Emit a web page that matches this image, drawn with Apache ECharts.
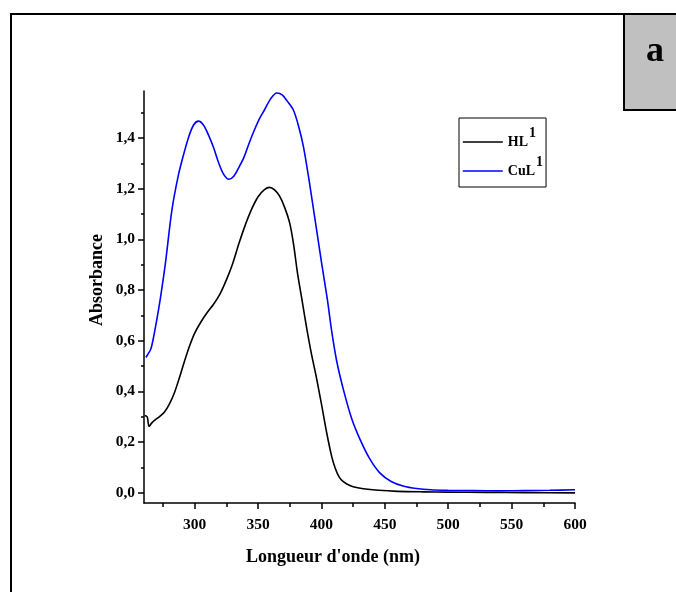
<!DOCTYPE html>
<html>
<head>
<meta charset="utf-8">
<script src="https://cdn.jsdelivr.net/npm/echarts@6/dist/echarts.min.js"></script>
<style>
  html, body { margin: 0; padding: 0; background: #fff; }
  #chart { width: 676px; height: 592px; }
</style>
</head>
<body>
<div id="chart"></div>
<script>
// UV-Vis absorption spectra of the ligand HL1 and its copper complex CuL1
const hlWavelength = [260.5, 262.5, 264, 266, 268, 272, 276, 280, 284, 288, 292, 296, 300, 305, 310, 315, 320, 325, 330, 335, 340, 345, 350, 355, 359, 363, 367, 371, 375, 378, 381, 384.5, 388.5, 392, 396, 400, 404, 408, 411, 414, 417, 420, 425, 433, 445, 460, 480, 500, 530, 560, 600];
const hlAbsorbance = [0.305, 0.300, 0.262, 0.275, 0.285, 0.300, 0.318, 0.350, 0.395, 0.455, 0.520, 0.580, 0.630, 0.675, 0.712, 0.745, 0.785, 0.840, 0.905, 0.985, 1.058, 1.120, 1.168, 1.196, 1.205, 1.195, 1.170, 1.125, 1.063, 0.980, 0.870, 0.765, 0.645, 0.550, 0.455, 0.350, 0.240, 0.145, 0.095, 0.062, 0.045, 0.035, 0.024, 0.016, 0.010, 0.006, 0.004, 0.003, 0.002, 0.001, 0.000];

const culWavelength = [261.5, 263.5, 265.3, 267, 270, 273, 277, 282, 287, 291, 295, 299, 303, 307, 311, 315, 319, 323, 327, 331, 335, 339, 343, 347, 351, 355, 360, 364.8, 369, 373, 377.9, 382, 385.8, 390, 395, 400, 404.7, 408, 412, 417.3, 424, 430.5, 438, 446, 455, 465, 475, 486, 500, 520, 540, 560, 580, 600];
const culAbsorbance = [0.534, 0.550, 0.566, 0.600, 0.680, 0.770, 0.910, 1.115, 1.250, 1.330, 1.400, 1.450, 1.466, 1.450, 1.410, 1.360, 1.300, 1.255, 1.237, 1.250, 1.285, 1.325, 1.380, 1.430, 1.475, 1.510, 1.555, 1.577, 1.570, 1.545, 1.509, 1.445, 1.365, 1.240, 1.076, 0.910, 0.761, 0.640, 0.520, 0.407, 0.290, 0.210, 0.135, 0.079, 0.045, 0.026, 0.017, 0.012, 0.010, 0.009, 0.008, 0.009, 0.010, 0.012];

const xMajorTicks = [300, 350, 400, 450, 500, 550, 600];
const xMinorTicks = [275, 325, 375, 425, 475, 525, 575];
const yMajorTicks = [0, 0.2, 0.4, 0.6, 0.8, 1.0, 1.2, 1.4];
const yMinorTicks = [0.1, 0.3, 0.5, 0.7, 0.9, 1.1, 1.3, 1.5];

const seriesNames = ['HL1', 'CuL1'];
const seriesLabels = { 'HL1': 'HL', 'CuL1': 'CuL' };
const seriesColors = ['#000000', '#0000ff'];

const FONT = '"Liberation Serif", "Times New Roman", serif';

const pairs = (xs, ys) => xs.map((x, i) => [x, ys[i]]);

const X_MIN = 260, X_MAX = 600, Y_MIN = -0.04, Y_MAX = 1.585;

const chart = echarts.init(document.getElementById('chart'), null, { renderer: 'canvas' });

const baseX = {
  type: 'value', min: X_MIN, max: X_MAX, position: 'bottom',
  splitLine: { show: false }
};
const baseY = {
  type: 'value', min: Y_MIN, max: Y_MAX, position: 'left',
  splitLine: { show: false }
};

chart.setOption({
  backgroundColor: '#ffffff',
  animation: false,
  grid: { left: 144, right: 101, top: 91, bottom: 89 },
  xAxis: [
    Object.assign({}, baseX, {
      axisLine: { show: true, onZero: false, lineStyle: { color: '#000', width: 1.5 } },
      axisTick: { show: true, inside: false, length: 6, customValues: xMajorTicks, lineStyle: { color: '#000', width: 1.5 } },
      axisLabel: {
        customValues: xMajorTicks, margin: 14,
        color: '#000', fontFamily: FONT, fontWeight: 'bold', fontSize: 15.5
      }
    }),
    Object.assign({}, baseX, {
      axisLine: { show: false, onZero: false },
      axisTick: { show: true, inside: false, length: 4, customValues: xMinorTicks, lineStyle: { color: '#000', width: 1.5 } },
      axisLabel: { show: false }
    })
  ],
  yAxis: [
    Object.assign({}, baseY, {
      axisLine: { show: true, onZero: false, lineStyle: { color: '#000', width: 1.5 } },
      axisTick: { show: true, inside: false, length: 6, customValues: yMajorTicks, lineStyle: { color: '#000', width: 1.5 } },
      axisLabel: {
        customValues: yMajorTicks, margin: 9,
        color: '#000', fontFamily: FONT, fontWeight: 'bold', fontSize: 15.5,
        formatter: v => v.toFixed(1).replace('.', ',')
      }
    }),
    Object.assign({}, baseY, {
      axisLine: { show: false, onZero: false },
      axisTick: { show: true, inside: false, length: 3, customValues: yMinorTicks, lineStyle: { color: '#000', width: 1.5 } },
      axisLabel: { show: false }
    })
  ],
  legend: {
    data: seriesNames,
    orient: 'vertical',
    left: 459, top: 118,
    padding: [8, 3, 0, 3],
    itemGap: -3,
    itemWidth: 40, itemHeight: 14,
    borderColor: '#000', borderWidth: 1,
    backgroundColor: '#fff',
    // plain line swatch, no marker in the middle
    itemStyle: { opacity: 0 },
    lineStyle: { width: 1.6 },
    textStyle: {
      color: '#000', fontFamily: FONT, fontWeight: 'bold', fontSize: 14,
      rich: {
        n: { fontFamily: FONT, fontWeight: 'bold', fontSize: 14, lineHeight: 14, color: '#000' },
        s: { fontFamily: FONT, fontWeight: 'bold', fontSize: 14, lineHeight: 14, color: '#000', padding: [0, 0, 18, 1] }
      }
    },
    formatter: name => '{n|' + seriesLabels[name] + '}{s|1}'
  },
  series: [
    {
      name: seriesNames[0], type: 'line', xAxisIndex: 0, yAxisIndex: 0,
      data: pairs(hlWavelength, hlAbsorbance),
      smooth: 0.3, symbol: 'none',
      lineStyle: { color: seriesColors[0], width: 1.6 },
      itemStyle: { color: seriesColors[0] }
    },
    {
      name: seriesNames[1], type: 'line', xAxisIndex: 0, yAxisIndex: 0,
      data: pairs(culWavelength, culAbsorbance),
      smooth: 0.3, symbol: 'none',
      lineStyle: { color: seriesColors[1], width: 1.6 },
      itemStyle: { color: seriesColors[1] }
    }
  ],
  graphic: [
    // outer frame of the figure panel
    {
      type: 'rect', z: 0, silent: true,
      shape: { x: 11, y: 14, width: 720, height: 640 },
      style: { fill: 'none', stroke: '#000', lineWidth: 2 }
    },
    // panel letter box
    {
      type: 'rect', z: 1, silent: true,
      shape: { x: 624, y: 14, width: 70, height: 96 },
      style: { fill: '#c0c0c0', stroke: '#000', lineWidth: 2 }
    },
    {
      type: 'text', z: 2, silent: true,
      x: 655, y: 52,
      style: {
        text: 'a', fill: '#000', font: 'bold 36px ' + FONT,
        textAlign: 'center', textVerticalAlign: 'middle'
      }
    },
    // axis titles
    {
      type: 'text', silent: true,
      x: 97, y: 280, rotation: Math.PI / 2,
      style: {
        text: 'Absorbance', fill: '#000', font: 'bold 18px ' + FONT,
        textAlign: 'center', textVerticalAlign: 'middle'
      }
    },
    {
      type: 'text', silent: true,
      x: 333, y: 557,
      style: {
        text: "Longueur d'onde (nm)", fill: '#000', font: 'bold 18px ' + FONT,
        textAlign: 'center', textVerticalAlign: 'middle'
      }
    }
  ]
});
</script>
</body>
</html>
